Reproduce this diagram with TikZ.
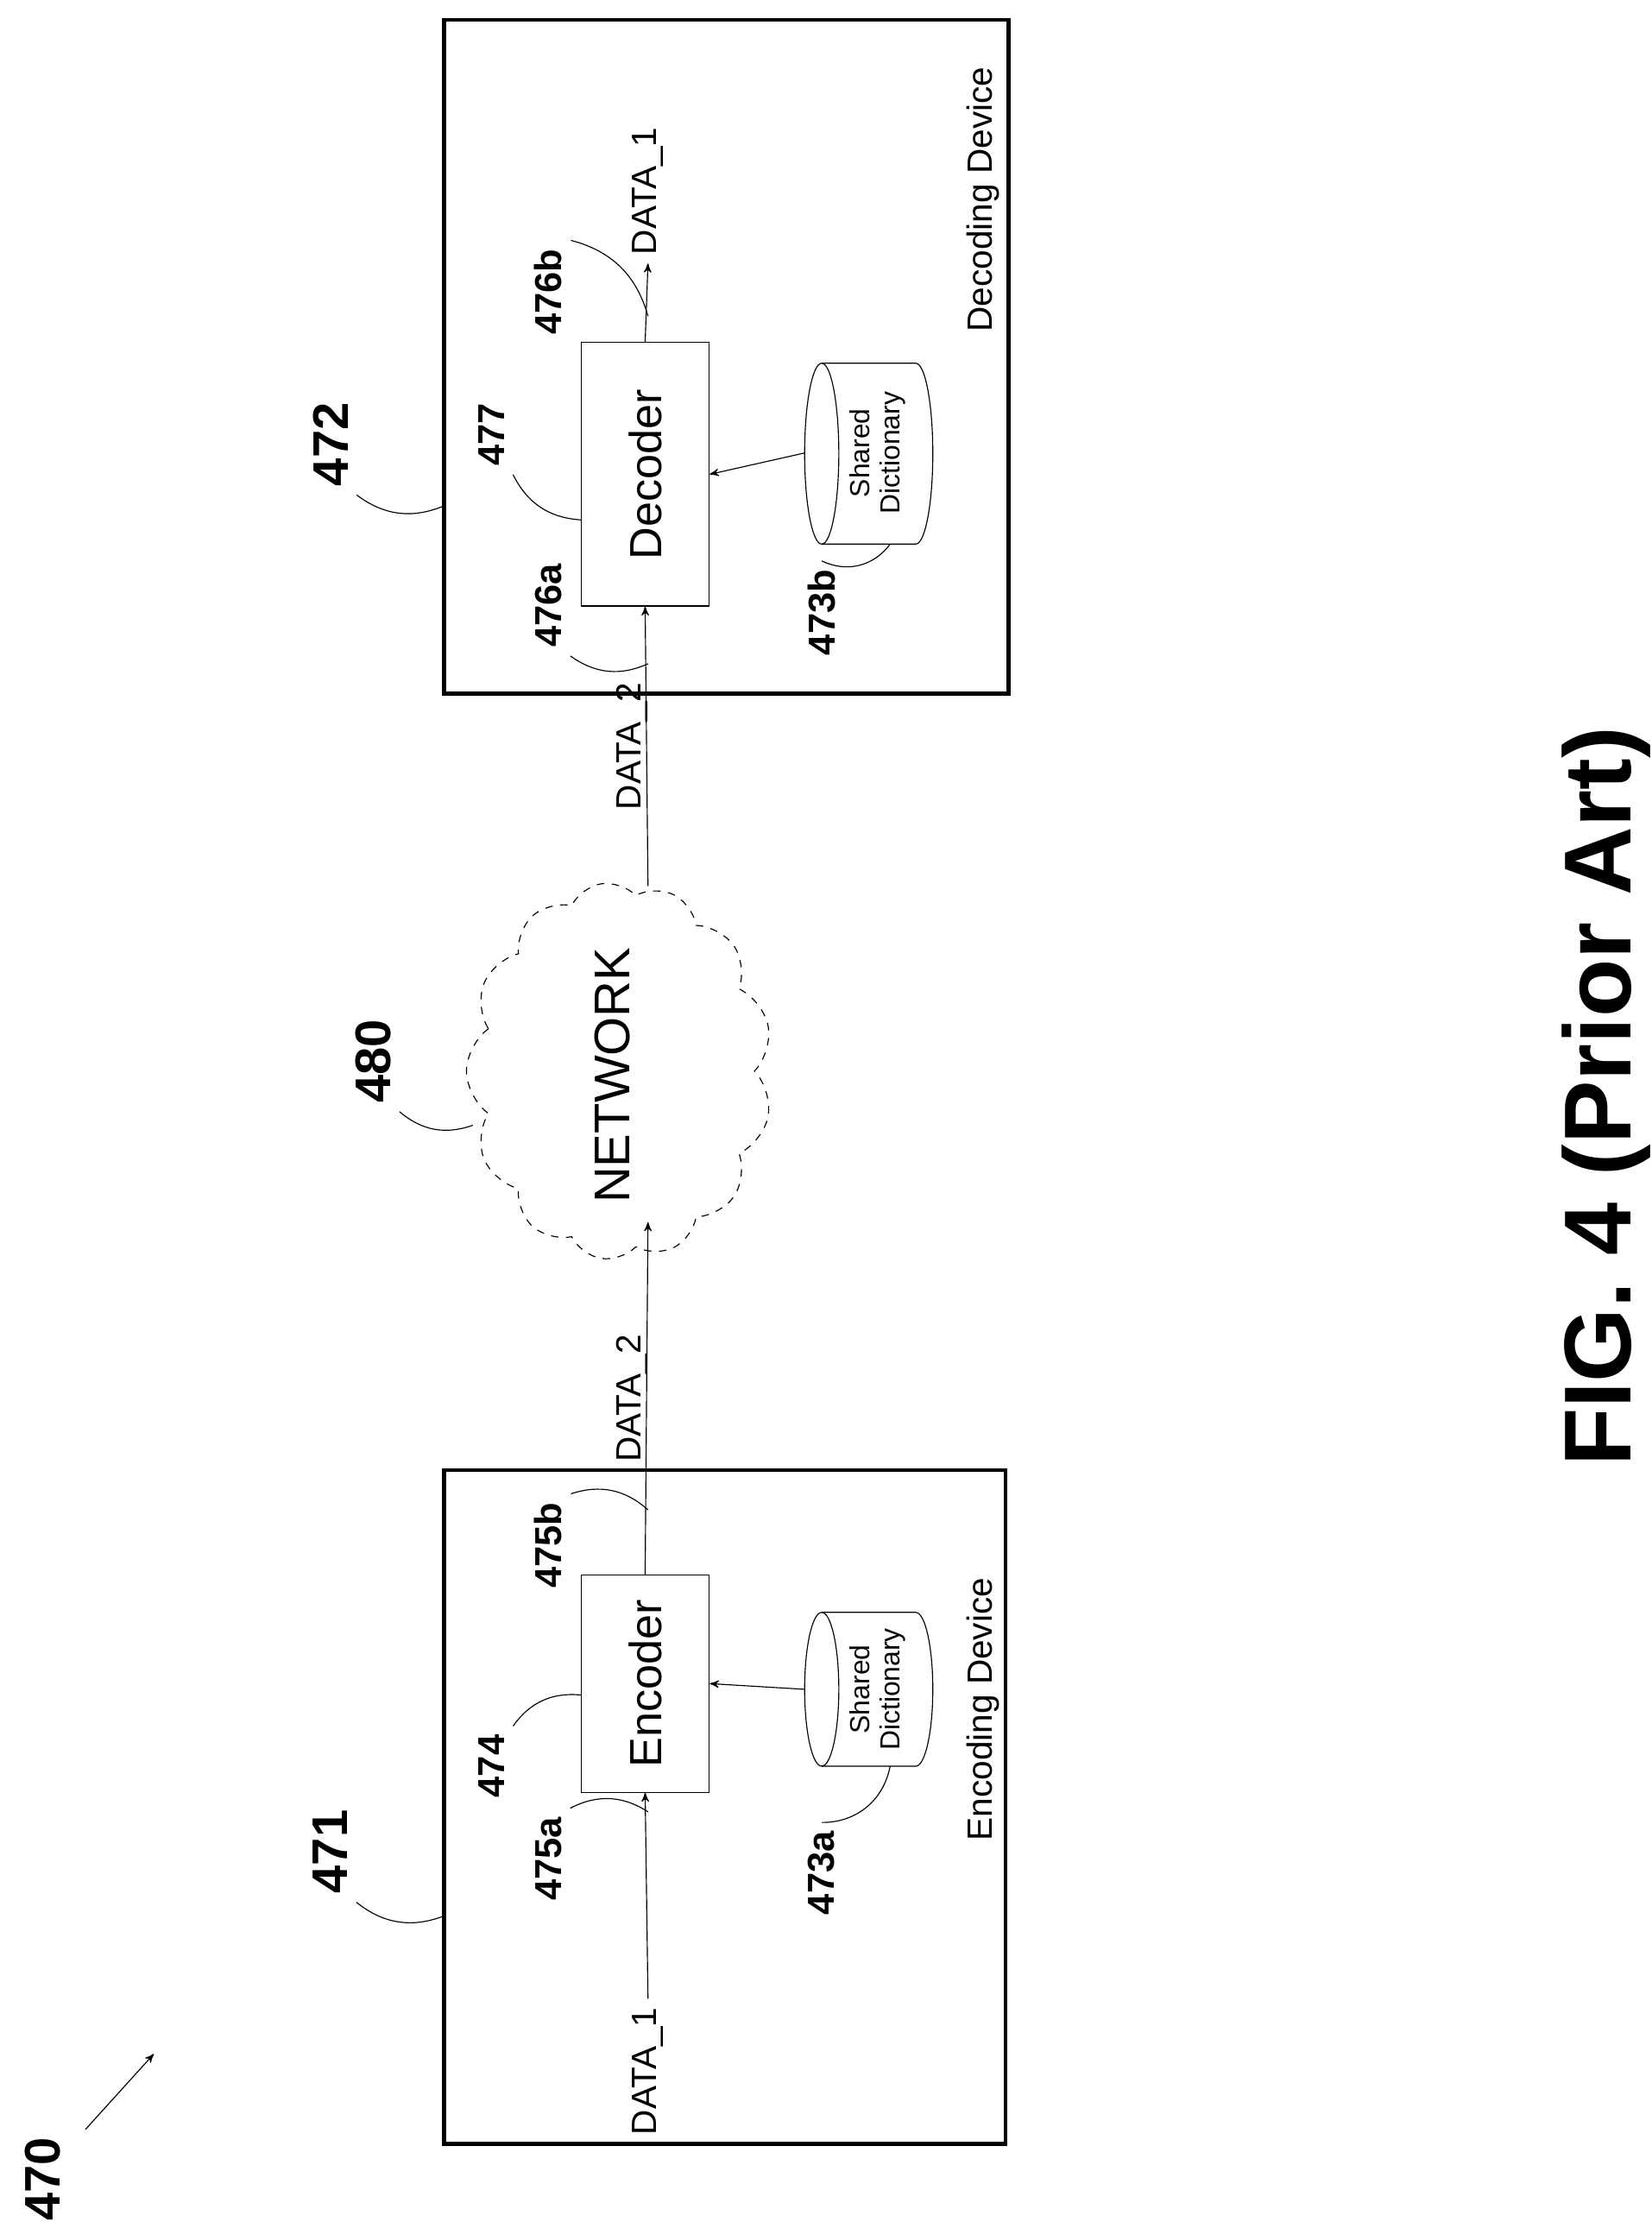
\documentclass[tikz,border=0pt]{standalone}
\usepackage{fontspec}
\setmainfont{Liberation Sans}
\usetikzlibrary{shapes.geometric,shapes.symbols,arrows}
\tikzstyle{line} = [draw, ->, >=stealth', thin]
\tikzstyle{device} = [draw, line width=1.6pt]
\tikzstyle{block} = [rectangle, draw, thin, rotate=90, minimum width=3.05cm, minimum height=1.8cm, font=\fontsize{18}{20}\selectfont]
\tikzstyle{dicttxt} = [rotate=90, align=center, font=\fontsize{11}{12}\selectfont]
\tikzstyle{ref} = [rotate=90, font=\bfseries\fontsize{15}{16}\selectfont]
\tikzstyle{txt} = [rotate=90, font=\fontsize{14}{16}\selectfont]
\tikzstyle{lead} = [draw, thin]
\newcommand{\dictdrum}[4]{% x left, y top, y bottom, half height
  \draw [thin] (#1+12,{(#2+#3)/2}) ellipse [x radius=0.24cm, y radius=#4];
  \draw [thin] (#1+12,#2) -- (#1+78,#2) arc [start angle=90, end angle=-90, x radius=0.24cm, y radius=#4] -- (#1+12,#3);
}
\begin{document}
\begin{tikzpicture}[x=0.02cm, y=-0.02cm]
		\useasboundingbox (0,0) rectangle (1160,1560);
		% devices
		\draw [device] (312,1032) rectangle (706,1505);
		\draw [device] (312,14) rectangle (708,487);
		\node [block] (enc) at (453,1182) {Encoder};
		\node [block, minimum width=3.7cm] (dec) at (453,333) {Decoder};
		\dictdrum{565}{1132}{1240}{1.08cm}
		\dictdrum{565}{255}{382}{1.27cm}
		\coordinate (d1) at (565,1186);
		\coordinate (d2) at (565,318);
		\node [dicttxt] (d1txt) at (616,1186) {Shared\\Dictionary};
		\node [dicttxt] (d2txt) at (616,318) {Shared\\Dictionary};
		\node [txt] (encdev) at (690,1200) {Encoding Device};
		\node [txt] (decdev) at (690,140) {Decoding Device};
		% network
		\node [cloud, draw, dashed, thin, cloud puffs=13, cloud puff arc=110, aspect=0.8, rotate=90, minimum width=5.3cm, minimum height=4.3cm] (net) at (435,752) {};
		\node [rotate=90, font=\fontsize{20}{22}\selectfont] (nettxt) at (430,755) {NETWORK};
		% data
		\node [txt, anchor=west] (in1) at (455,1505) {DATA\_1};
		\node [txt, anchor=west] (out1) at (455,185) {DATA\_1};
		\coordinate (netin) at (455,858);
		\coordinate (netout) at (455,622);
		\path [line] (in1.east) -- (enc.west);
		\path [line] (enc.east) -- (netin) node [txt, midway, above, yshift=-4pt] {DATA\_2};
		\path [line] (netout) -- (dec.west) node [txt, midway, above, yshift=-4pt] {DATA\_2};
		\path [line] (dec.east) -- (out1.west);
		\path [line] (d1) -- (enc.south);
		\path [line] (d2) -- (dec.south);
		% reference numerals
		\node [ref, font=\bfseries\fontsize{20}{22}\selectfont] (r471) at (232,1300) {471};
		\node [ref, font=\bfseries\fontsize{20}{22}\selectfont] (r472) at (232,312) {472};
		\node [ref, font=\bfseries\fontsize{20}{22}\selectfont] (r480) at (262,745) {480};
		\node [ref, font=\bfseries\fontsize{20}{22}\selectfont] (r470) at (30,1530) {470};
		\node [ref] (r474) at (345,1240) {474};
		\node [ref] (r477) at (345,305) {477};
		\node [ref] (r475a) at (385,1305) {475a};
		\node [ref] (r475b) at (385,1085) {475b};
		\node [ref] (r476a) at (385,425) {476a};
		\node [ref] (r476b) at (385,205) {476b};
		\node [ref] (r473a) at (577,1315) {473a};
		\node [ref] (r473b) at (577,430) {473b};
		\path [lead] (r471.south west) to [bend right=30] (312,1345);
		\path [lead] (r472.south west) to [bend right=30] (312,355);
		\path [lead] (r480.south west) to [bend right=30] (332,790);
		\path [lead] (r474.south east) to [bend left=30] (408,1190);
		\path [lead] (r477.south west) to [bend right=30] (408,365);
		\path [lead] (r475a.south east) to [bend left=30] (455,1272);
		\path [lead] (r475b.south east) to [bend left=30] (455,1060);
		\path [lead] (r476a.south west) to [bend right=30] (455,466);
		\path [lead] (r476b.south east) to [bend left=30] (455,222);
		\path [lead] (r473a.east) to [bend right=40] (625,1240);
		\path [lead] (r473b.east) to [bend right=40] (625,382);
		\path [line] (60,1495) -- (108,1442);
		\node [rotate=90, font=\bfseries\fontsize{38}{40}\selectfont] (fig) at (1128,770) {FIG. 4 (Prior Art)};
\end{tikzpicture}
\end{document}
